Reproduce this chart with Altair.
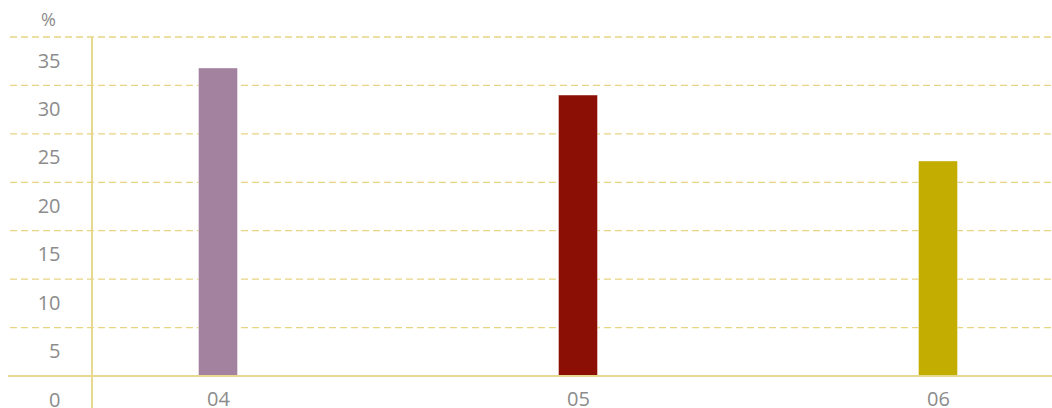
import altair as alt
import pandas as pd

categories = ["04", "05", "06"]
values = [31.8, 29.0, 22.2]
colors = ["#a3829f", "#8b0f04", "#c2ad00"]

df = pd.DataFrame({"cat": categories, "val": values})

font = "Open Sans"
gray = "#8c8c8c"
axis_col = "#e6d98f"
grid_col = "#e8d584"

W, H = 1042, 339

bars = alt.Chart(df).mark_bar(size=39, stroke="#ffffff", strokeOpacity=0.4, strokeWidth=1).encode(
    x=alt.X("cat:O", sort=categories,
            scale=alt.Scale(type="point", range=[208, 928], padding=0),
            axis=alt.Axis(title=None, labelAngle=0, ticks=False, domain=False,
                          labelPadding=13,
                          labelFont=font, labelFontSize=20, labelColor=gray, grid=False)),
    y=alt.Y("val:Q", scale=alt.Scale(domain=[0, 35], nice=False),
            axis=alt.Axis(title="%", titleAngle=0, titleAlign="center", titleBaseline="bottom",
                          titleX=-44, titleY=-8, titleFont=font, titleFontSize=18,
                          titleFontWeight="normal", titleColor=gray,
                          values=[0, 5, 10, 15, 20, 25, 30, 35],
                          offset=-82, domain=False, ticks=False, labelOffset=24,
                          labelPadding=32, labelFont=font, labelFontSize=20, labelColor=gray,
                          grid=False)),
    color=alt.Color("cat:N", scale=alt.Scale(domain=categories, range=colors), legend=None),
)

grid_vals = pd.DataFrame({"g": [5, 10, 15, 20, 25, 30, 35]})
grid = alt.Chart(grid_vals).mark_rule(color=grid_col, strokeDash=[7, 4], strokeWidth=1.3).encode(
    y=alt.Y("g:Q", scale=alt.Scale(domain=[0, 35], nice=False)),
    x=alt.value(0), x2=alt.value(W),
)

vline = alt.Chart(df).mark_rule(color=axis_col, strokeWidth=2).encode(
    x=alt.value(82), y=alt.value(0), y2=alt.value(H + 40),
)

baseline = alt.Chart(df).mark_rule(color=axis_col, strokeWidth=2).encode(
    x=alt.value(-2), x2=alt.value(W), y=alt.value(H),
)

chart = alt.layer(grid, vline, bars, baseline).properties(
    width=W, height=H,
    autosize=alt.AutoSizeParams(type="none"),
    padding={"left": 10, "top": 37, "right": 0, "bottom": 32},
).configure_view(stroke=None).configure_axis(labelFontWeight="normal")

chart.save("out.html", embed_options={"renderer": "svg", "actions": False})
